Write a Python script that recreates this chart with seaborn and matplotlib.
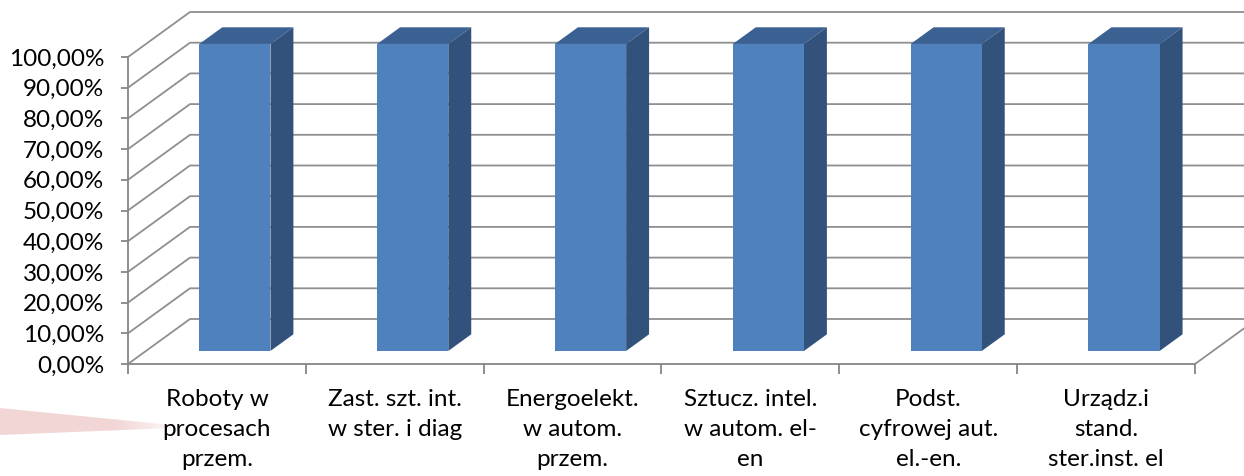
import numpy as np
import pandas as pd
import matplotlib
matplotlib.use("Agg")
import matplotlib.pyplot as plt
import seaborn as sns
from matplotlib.lines import Line2D
from matplotlib.patches import Polygon
from matplotlib.transforms import IdentityTransform, ScaledTranslation

# --- data -------------------------------------------------------------
categories = [
    "Roboty w\nprocesach\nprzem.",
    "Zast. szt. int.\nw ster. i diag",
    "Energoelekt.\nw autom.\nprzem.",
    "Sztucz. intel.\nw autom. el-\nen",
    "Podst.\ncyfrowej aut.\nel.-en.",
    "Urządz.i\nstand.\nster.inst. el",
]
values = [100, 100, 100, 100, 100, 100]
ytick_values = [0, 10, 20, 30, 40, 50, 60, 70, 80, 90, 100]
ytick_labels = ["0,00%", "10,00%", "20,00%", "30,00%", "40,00%", "50,00%",
                "60,00%", "70,00%", "80,00%", "90,00%", "100,00%"]

# --- style ------------------------------------------------------------
sns.set_theme(style="white")
plt.rcParams["font.family"] = ["Lato", "DejaVu Sans"]
FS = 17.5

W, H = 1244, 476
fig = plt.figure(figsize=(W / 100, H / 100), dpi=100)
fig.patch.set_facecolor("white")

# faded decorative wedge behind the lower-left labels
bg = fig.add_axes([0, 0, 1, 1], zorder=-1)
bg.set_xlim(0, W)
bg.set_ylim(H, 0)
bg.axis("off")
grad = np.zeros((2, 256, 4))
grad[..., 0], grad[..., 1], grad[..., 2] = 0.88, 0.62, 0.62
grad[..., 3] = np.concatenate([np.full(170, 0.42), np.linspace(0.42, 0.08, 86)])[None, :]
img = bg.imshow(grad, extent=(0, 175, 440, 400), aspect="auto", interpolation="bilinear")
wedge = Polygon([(0, 408), (172, 425), (172, 428), (0, 435)], closed=True,
                facecolor="none", edgecolor="none", transform=bg.transData)
bg.add_patch(wedge)
img.set_clip_path(wedge)

# main chart: front plane of the 3-D box
ax = fig.add_axes([128 / W, (H - 364) / H, 1067 / W, 307 / H])
df = pd.DataFrame({"kategoria": categories, "wartosc": values})
sns.barplot(data=df, x="kategoria", y="wartosc", color="#4F81BD", saturation=1,
            width=0.40, ax=ax, zorder=5)
n = len(categories)
ax.set_xlim(-0.5, n - 0.5)
ax.set_ylim(0, 100)
ax.set_xlabel("")
ax.set_ylabel("")
ax.set_facecolor("none")

DEPTH = np.array([62.0, 45.0])        # depth vector of the box, in pixels
BAR_FRONT, BAR_BACK = 0.29, 0.66      # bar depth span (fraction of box depth)
GRID = "#8f8f8f"
AXIS = "#868686"


def proj(x, y, d):
    return ax.transData.transform((x, y)) + d * DEPTH


def add_line(points, color=GRID, lw=1.3, z=1):
    pts = np.array(points)
    ax.add_artist(Line2D(pts[:, 0], pts[:, 1], color=color, lw=lw,
                         transform=IdentityTransform(), clip_on=False, zorder=z,
                         solid_capstyle="butt"))


# back wall and side wall gridlines
x_lo, x_hi = -0.5, n - 0.5
for yv in ytick_values:
    add_line([proj(x_lo, yv, 0), proj(x_lo, yv, 1), proj(x_hi, yv, 1)])
# right edge of the floor
add_line([proj(x_hi, 0, 0), proj(x_hi, 0, 1)])

# 3-D bars: shift the front faces back and add top and side faces
bars = list(ax.patches)
shift = ScaledTranslation(BAR_FRONT * DEPTH[0] / 100, BAR_FRONT * DEPTH[1] / 100,
                          fig.dpi_scale_trans)
for bar in bars:
    x0, w, h = bar.get_x(), bar.get_width(), bar.get_height()
    bar.set_transform(ax.transData + shift)
    bar.set_clip_on(False)
    bar.set_edgecolor("none")
    top = [proj(x0, h, BAR_FRONT), proj(x0 + w, h, BAR_FRONT),
           proj(x0 + w, h, BAR_BACK), proj(x0, h, BAR_BACK)]
    side = [proj(x0 + w, 0, BAR_FRONT), proj(x0 + w, h, BAR_FRONT),
            proj(x0 + w, h, BAR_BACK), proj(x0 + w, 0, BAR_BACK)]
    for poly, col in ((top, "#3B6193"), (side, "#32527C")):
        ax.add_artist(Polygon(poly, closed=True, facecolor=col, edgecolor="none",
                              transform=IdentityTransform(), clip_on=False, zorder=4))

# axes, ticks and labels
for s in ("top", "right"):
    ax.spines[s].set_visible(False)
for s in ("left", "bottom"):
    ax.spines[s].set_color(AXIS)
    ax.spines[s].set_linewidth(1.3)
    ax.spines[s].set_zorder(2)

ax.set_yticks(ytick_values, ytick_labels)
ax.tick_params(axis="y", which="major", direction="out", length=5, width=1.3,
               color=AXIS, pad=12, labelsize=FS, labelcolor="black", left=True)
ax.set_xticks(range(n), categories)
ax.set_xticks(np.arange(n + 1) - 0.5, minor=True)
ax.tick_params(axis="x", which="major", length=0, pad=18, labelsize=FS,
               labelcolor="black")
ax.tick_params(axis="x", which="minor", direction="out", length=7, width=1.3,
               color=AXIS, bottom=True)
for lab in ax.get_xticklabels():
    lab.set_horizontalalignment("center")
    lab.set_multialignment("center")
    lab.set_linespacing(1.52)
    lab.set_verticalalignment("top")

fig.savefig("out.png", dpi=100, facecolor="white")
